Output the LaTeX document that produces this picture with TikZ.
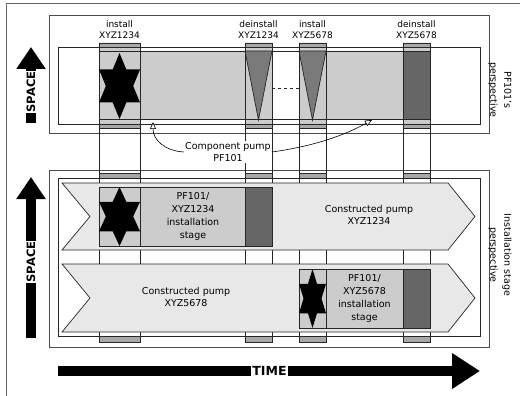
\documentclass[tikz,border=0pt]{standalone}
\usepackage{fontspec}
\setmainfont{DejaVu Sans}
\usetikzlibrary{arrows.meta,positioning}
\definecolor{lightgr}{HTML}{CCCCCC}
\definecolor{bandgr}{HTML}{E8E8E8}
\definecolor{tabgr}{HTML}{A8A8A8}
\definecolor{darkgr}{HTML}{666666}
\definecolor{trigr}{HTML}{7A7A7A}
\newcommand{\hexstar}[4]{\fill[shift={(#1,#2)},xscale=#3,yscale=#4] (0,-1)--(.333,-.5)--(1,-.5)--(.667,0)--(1,.5)--(.333,.5)--(0,1)--(-.333,.5)--(-1,.5)--(-.667,0)--(-1,-.5)--(-.333,-.5)--cycle;}
\begin{document}
\begin{tikzpicture}[x=1pt,y=-1pt,every node/.style={font=\fontsize{9.5}{12}\selectfont,align=center,inner sep=1pt},
ln/.style={draw=black!85,line width=0.7pt},tab/.style={ln,fill=tabgr},band/.style={ln,fill=bandgr},
stage/.style={font=\fontsize{9.5}{12.8}\selectfont},colt/.style={font=\fontsize{9}{11}\selectfont},
axis/.style={line width=10pt,-{Triangle[length=22pt,width=28pt]}},
axtxt/.style={fill=white,font=\bfseries\fontsize{11.5}{12}\selectfont},
ptr/.style={line width=0.6pt,-{Triangle[length=7pt,width=6pt,fill=white]}}]
\useasboundingbox (0,0) rectangle (520,396);
\draw[black!60,line width=0.8pt] (6,3) rectangle (540,420);
\draw[ln,draw=black!70] (49,15) rectangle (489,133) (49,170) rectangle (489,347);
\node[colt] (i1) at (119.5,30) {install\\XYZ1234};
\node[colt] (d1) at (258.5,30) {deinstall\\XYZ1234};
\node[colt] (i2) at (312.5,30) {install\\XYZ5678};
\node[colt] (d2) at (416.5,30) {deinstall\\XYZ5678};
\fill[lightgr] (99,47) rectangle (140,124) (245,47) rectangle (272,124) (299,47) rectangle (326,124) (403,47) rectangle (430,124);
\fill[lightgr] (99,51) rectangle (272,119) (299,51) rectangle (403,119);\fill[darkgr] (403,51) rectangle (430,119);
\draw[ln] (99,51) rectangle (430,119);
\filldraw[ln,fill=trigr] (245,51) -- (272,51) -- (258.5,120) -- cycle (299,51) -- (326,51) -- (312.5,120) -- cycle;
\draw[ln,dashed] (272,88) -- (299,88);
\draw[ln] (58,47) rectangle (480,124) (58,178) rectangle (480,336);
\filldraw[tab] (99,43) rectangle (140,47) (245,43) rectangle (272,47) (299,43) rectangle (326,47) (403,43) rectangle (430,47);
\filldraw[tab] (99,124) rectangle (140,128) (245,124) rectangle (272,128) (299,124) rectangle (326,128) (403,124) rectangle (430,128);
\filldraw[tab] (99,173) rectangle (140,178) (245,173) rectangle (272,178) (299,173) rectangle (326,178) (403,173) rectangle (430,178);
\filldraw[tab] (99,336) rectangle (140,342) (245,336) rectangle (272,342) (299,336) rectangle (326,342) (403,336) rectangle (430,342);
\draw[ln] (99,43) rectangle (140,342) (245,43) rectangle (272,342) (299,43) rectangle (326,342) (403,43) rectangle (430,342);
\hexstar{119.5}{86}{20.5}{33}
\filldraw[band] (62,183) -- (448,183) -- (475,216.5) -- (448,250) -- (62,250) -- (90,216.5) -- cycle;
\filldraw[band] (62,264) -- (448,264) -- (475,298) -- (448,332) -- (62,332) -- (90,298) -- cycle;
\node (c1) at (369,215) {Constructed pump\\XYZ1234};
\node (c2) at (186,296.5) {Constructed pump\\XYZ5678};
\filldraw[ln,fill=lightgr] (99,187) rectangle (272,246);\filldraw[ln,fill=darkgr] (245,187) rectangle (272,246);\draw[ln] (140,187) -- (140,246);
\filldraw[ln,fill=lightgr] (299,269) rectangle (430,328);\filldraw[ln,fill=darkgr] (403,269) rectangle (430,328);\draw[ln] (326,269) -- (326,328);
\hexstar{119.5}{216.5}{20.5}{29.5}
\hexstar{312.5}{298.5}{13.5}{29.5}
\node[stage] (s1) at (193,216.5) {PF101/\\XYZ1234\\installation\\stage};
\node[stage] (s2) at (364.5,298.5) {PF101/\\XYZ5678\\installation\\stage};
\node[fill=white] (cp) at (228,152) {Component pump\\PF101};
\coordinate (pl) at (153,122);\coordinate (pr) at (372,120);
\draw[ptr] (cp.west) .. controls (165,151) and (153,140) .. (pl);
\draw[ptr] (cp.east) .. controls (315,146) and (345,135) .. (pr);
\coordinate (sa) at (31,123);\coordinate (sb) at (31,47);\coordinate (sc) at (31,338);\coordinate (sd) at (31,177);
\draw[axis] (sa) -- (sb);\draw[axis] (sc) -- (sd);
\node[axtxt,rotate=90] (sp1) at (31,92) {SPACE};
\node[axtxt,rotate=90] (sp2) at (31,262) {SPACE};
\coordinate (ta) at (58,371);\coordinate (tb) at (480,371);
\draw[axis,-{Triangle[length=28pt,width=34pt]}] (ta) -- (tb);
\node[axtxt,font=\bfseries\fontsize{12.5}{13}\selectfont] (tm) at (269.5,371) {TIME};
\node[rotate=-90,font=\fontsize{9.5}{14}\selectfont] (pv1) at (500,90) {PF101's\\perspective};
\node[rotate=-90,font=\fontsize{9.5}{14}\selectfont] (pv2) at (500,255) {Installation stage\\perspective};
\end{tikzpicture}
\end{document}
